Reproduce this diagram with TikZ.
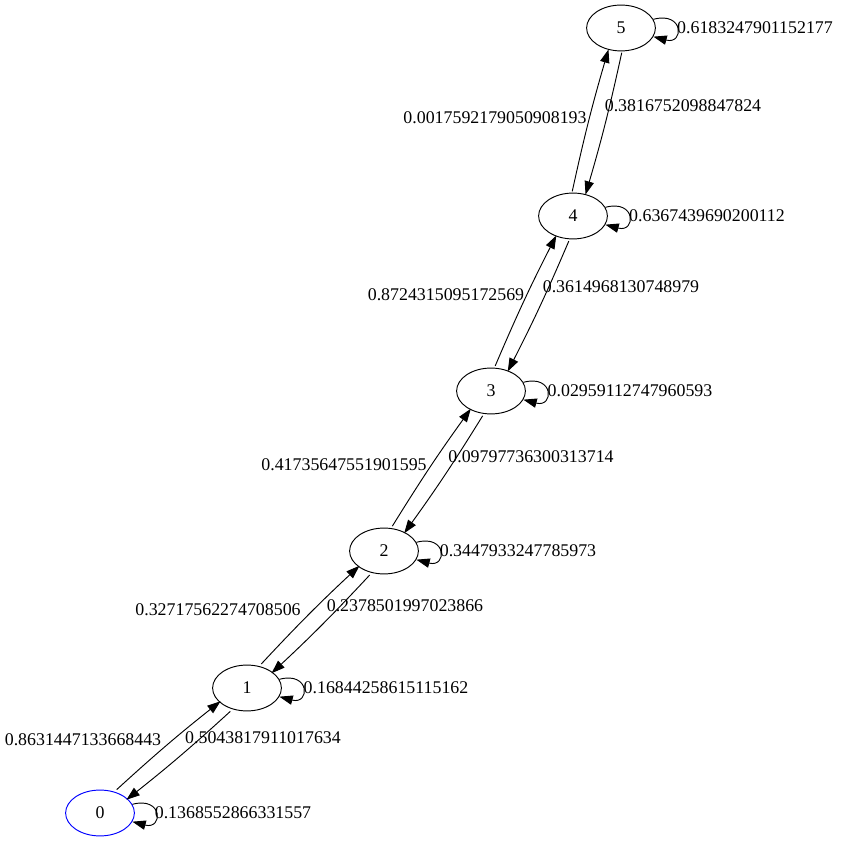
\documentclass[tikz,border=0pt]{standalone}
\usepackage{fontspec}
\setmainfont{Liberation Serif}
\usetikzlibrary{shapes.geometric,arrows.meta}
\begin{document}
\begin{tikzpicture}[x=0.75pt,y=0.75pt,
  every node/.style={font=\fontsize{13.4}{16}\selectfont},
  state/.style={draw,ellipse,minimum width=51.6pt,minimum height=34.4pt,inner sep=0pt,line width=0.7pt},
  lbl/.style={inner sep=0pt},
  edge/.style={draw,line width=0.7pt,-{Triangle[length=10pt,width=7pt]}},
  bendedge/.style={edge,bend left=2}]
\useasboundingbox (0,0) rectangle (841,842);
\node[state] (n5) at (621,814) {5};
\node[state] (n4) at (573,626) {4};
\node[state] (n3) at (491,451) {3};
\node[state] (n2) at (384,291) {2};
\node[state] (n1) at (247,154) {1};
\node[state,draw=blue] (n0) at (100,29) {0};
% self loops
\foreach \n in {n5,n4,n3,n2,n1,n0}{
  \draw[edge] (\n.15) .. controls +(15:32) and +(-15:32) .. (\n.-15);
}
% edges (parallel pairs)
\draw[bendedge,transform canvas={shift={(-5.8,1.5)}}] (n4) to (n5);
\draw[bendedge,transform canvas={shift={(5.8,-1.5)}}] (n5) to (n4);
\draw[bendedge,transform canvas={shift={(-5.4,2.6)}}] (n3) to (n4);
\draw[bendedge,transform canvas={shift={(5.4,-2.6)}}] (n4) to (n3);
\draw[bendedge,transform canvas={shift={(-5.0,3.3)}}] (n2) to (n3);
\draw[bendedge,transform canvas={shift={(5.0,-3.3)}}] (n3) to (n2);
\draw[bendedge,transform canvas={shift={(-4.2,4.2)}}] (n1) to (n2);
\draw[bendedge,transform canvas={shift={(4.2,-4.2)}}] (n2) to (n1);
\draw[bendedge,transform canvas={shift={(-3.9,4.6)}}] (n0) to (n1);
\draw[bendedge,transform canvas={shift={(3.9,-4.6)}}] (n1) to (n0);
% labels
\node[lbl] (L55) at (755,814) {0.6183247901152177};
\node[lbl] (L45) at (495,724) {0.0017592179050908193};
\node[lbl] (L54) at (683,736) {0.3816752098847824};
\node[lbl] (L44) at (707,626) {0.6367439690200112};
\node[lbl] (L34) at (446,547) {0.8724315095172569};
\node[lbl] (L43) at (621,555) {0.3614968130748979};
\node[lbl] (L33) at (630,451) {0.02959112747960593};
\node[lbl] (L23) at (344,377) {0.41735647551901595};
\node[lbl] (L32) at (531,385) {0.09797736300313714};
\node[lbl] (L22) at (518,291) {0.3447933247785973};
\node[lbl] (L12) at (218,232) {0.32717562274708506};
\node[lbl] (L21) at (405,236) {0.2378501997023866};
\node[lbl] (L11) at (386,154) {0.16844258615115162};
\node[lbl] (L01) at (83,102) {0.8631447133668443};
\node[lbl] (L10) at (263,104) {0.5043817911017634};
\node[lbl] (L00) at (233,29) {0.1368552866331557};
\end{tikzpicture}
\end{document}
